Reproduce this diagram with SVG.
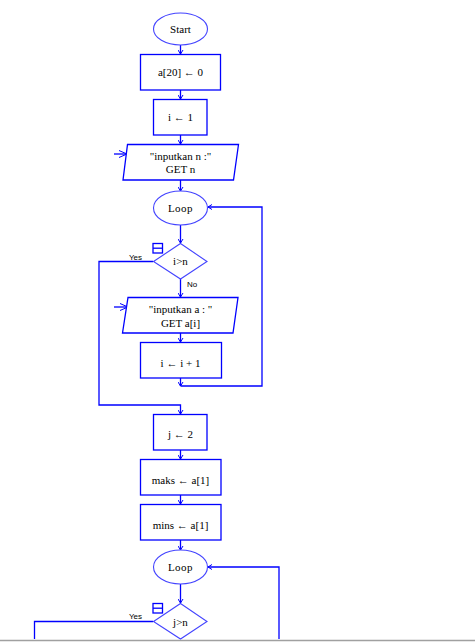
<svg xmlns="http://www.w3.org/2000/svg" width="475" height="642" viewBox="0 0 475 642">
<defs>
<marker id="ah" markerWidth="6" markerHeight="6" refX="5" refY="3" orient="auto" markerUnits="userSpaceOnUse">
<path d="M1,0.5 L5,3 L1,5.5" fill="none" stroke="#0000FF" stroke-width="1"/>
</marker>
<marker id="ahBig" markerWidth="10" markerHeight="10" refX="9" refY="5" orient="auto" markerUnits="userSpaceOnUse">
<path d="M1,1.5 L9,5 L1,8.5" fill="none" stroke="#0000FF" stroke-width="1"/>
</marker>
<style>
.s{fill:#fff;stroke:#0000FF;stroke-width:1.3}
.d{fill:#fff;stroke:#4444FF;stroke-width:1.1}
.c{fill:none;stroke:#0000FF;stroke-width:1.3}
.t{font-family:"Liberation Serif","Times New Roman",serif;font-size:11px;fill:#000;text-anchor:middle}
.l{font-family:"Liberation Sans",Arial,sans-serif;font-size:8px;fill:#000}
</style>
</defs>
<rect width="475" height="642" fill="#fff"/>
<g id="connectors">
<path class="c" d="M180.5,45 V54" marker-end="url(#ah)"/>
<path class="c" d="M180.5,90 V99" marker-end="url(#ah)"/>
<path class="c" d="M180.5,135 V144" marker-end="url(#ah)"/>
<path class="c" d="M180.5,180 V191" marker-end="url(#ah)"/>
<path class="c" d="M180.5,225 V243" marker-end="url(#ah)"/>
<path class="c" d="M180.5,279 V297" marker-end="url(#ah)"/>
<path class="c" d="M180.5,333 V342" marker-end="url(#ah)"/>
<path class="c" d="M180.5,378 V386" marker-end="url(#ah)"/>
<path class="c" d="M180.5,386 H262 V207 H208" marker-end="url(#ah)"/>
<path class="c" d="M153,261.5 H99 V405 H180.5 V414" marker-end="url(#ah)"/>
<path class="c" d="M180.5,450 V459" marker-end="url(#ah)"/>
<path class="c" d="M180.5,495 V504" marker-end="url(#ah)"/>
<path class="c" d="M180.5,540 V550" marker-end="url(#ah)"/>
<path class="c" d="M180.5,584 V603" marker-end="url(#ah)"/>
<path class="c" d="M279,639 V567 H208" marker-end="url(#ah)"/>
<path class="c" d="M153,621.5 H34.5 V639"/>
<path class="c" d="M114,154 H127" marker-end="url(#ahBig)"/>
<path class="c" d="M114,307 H128" marker-end="url(#ahBig)"/>
<text class="l" x="129" y="260">Yes</text>
<text class="l" x="187" y="287">No</text>
<text class="l" x="129" y="619">Yes</text>
</g>
<g id="start">
<ellipse class="d" cx="180.5" cy="29" rx="27" ry="16"/>
<text class="t" x="180.5" y="33" font-size="10">Start</text>
</g>
<g id="init-array">
<rect class="s" x="140.5" y="54.5" width="80" height="35.5"/>
<text class="t" x="180.5" y="76">a[20] ← 0</text>
</g>
<g id="init-i">
<rect class="s" x="153.5" y="99.5" width="53.5" height="35.5"/>
<text class="t" x="180.5" y="121">i ← 1</text>
</g>
<g id="input-n">
<polygon class="s" points="127.5,144.5 238.5,144.5 233.5,180 123,180"/>
<text class="t" x="180.5" y="160">"inputkan n :"</text>
<text class="t" x="180.5" y="173">GET n</text>
</g>
<g id="loop1">
<ellipse class="d" cx="180.5" cy="208" rx="27" ry="17"/>
<text class="t" x="180.5" y="212" letter-spacing="0.5">Loop</text>
</g>
<g id="cond1">
<polygon class="d" points="180.5,243.5 207,261.5 180.5,279 153.5,261.5"/>
<text class="t" x="180.5" y="265">i&gt;n</text>
<rect class="s" x="153" y="243.5" width="9.5" height="9.5" fill="none"/>
<line class="c" x1="153" y1="248.2" x2="162.5" y2="248.2"/>
</g>
<g id="input-a">
<polygon class="s" points="128,297.5 238,297.5 233,333 122.5,333"/>
<text class="t" x="180.5" y="313">"inputkan a : "</text>
<text class="t" x="180.5" y="327">GET a[i]</text>
</g>
<g id="inc-i">
<rect class="s" x="140.5" y="342.5" width="81" height="35.5"/>
<text class="t" x="180.5" y="367">i ← i + 1</text>
</g>
<g id="init-j">
<rect class="s" x="153.5" y="414.5" width="53.5" height="35.5"/>
<text class="t" x="180.5" y="438">j ← 2</text>
</g>
<g id="maks">
<rect class="s" x="140.5" y="459.5" width="80.5" height="35.5"/>
<text class="t" x="180.5" y="484">maks  ← a[1]</text>
</g>
<g id="mins">
<rect class="s" x="140.5" y="504.5" width="80.5" height="35.5"/>
<text class="t" x="180.5" y="529">mins ← a[1]</text>
</g>
<g id="loop2">
<ellipse class="d" cx="180.5" cy="567" rx="27" ry="17"/>
<text class="t" x="180.5" y="571" letter-spacing="0.5">Loop</text>
</g>
<g id="cond2">
<polygon class="d" points="180.5,603.5 207,621.5 180.5,639 153.5,621.5"/>
<text class="t" x="180.5" y="626">j&gt;n</text>
<rect class="s" x="153" y="603.5" width="9.5" height="9.5" fill="none"/>
<line class="c" x1="153" y1="608.2" x2="162.5" y2="608.2"/>
</g>
<line x1="0" y1="640.5" x2="475" y2="640.5" stroke="#A0A0A0" stroke-width="1.5"/>
</svg>
